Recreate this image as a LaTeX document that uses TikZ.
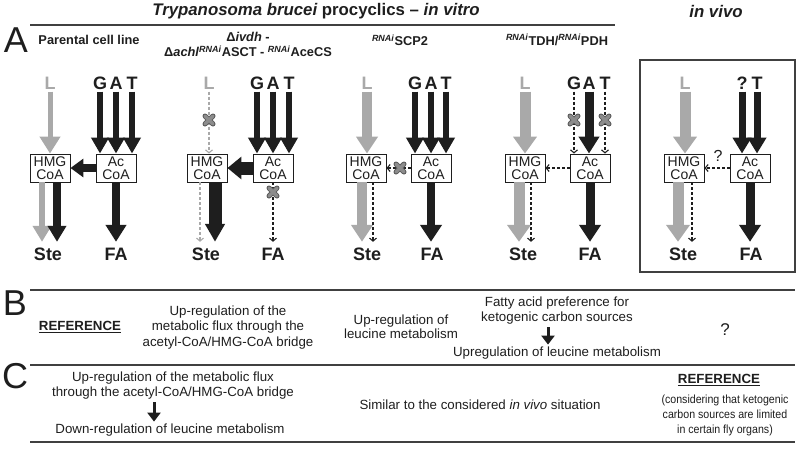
\documentclass[tikz,border=0pt]{standalone}
\usepackage{fontspec}
\setmainfont{Liberation Sans}
\usetikzlibrary{arrows.meta}
\definecolor{lgrey}{HTML}{A9A9A9}
\definecolor{xgrey}{HTML}{8C8C8C}
\definecolor{xdark}{HTML}{5E5E5E}
\definecolor{ink}{HTML}{1E1E1E}
\newcommand\myfs[2]{\fontsize{#1}{#2}\selectfont}
\newcommand\rnai{\textsuperscript{\textit{RNAi}}}
\tikzset{
 xmark/.pic={
  \draw[line width=5pt, draw=xdark, line cap=round] (-4,-4)--(4,4) (-4,4)--(4,-4);
  \draw[line width=3.2pt, draw=xgrey, line cap=round] (-4,-4)--(4,4) (-4,4)--(4,-4);
 }
}
\begin{document}
\begin{tikzpicture}[x=1pt,y=-1pt,
 lbl/.style={inner sep=0pt, text height=13pt, text depth=0pt, font=\myfs{18}{18}\bfseries, text=ink},
 glbl/.style={lbl, text=lgrey},
 bx/.style={draw=ink, line width=0.9pt, fill=white, minimum width=40pt, minimum height=28pt, inner sep=0pt, align=center, font=\myfs{14}{12.8}, text=ink},
 fatarrow/.style n args={3}{line width=#1, -{Triangle[width=#2,length=#3]}},
 dasharrow/.style={line width=1.1pt, dash pattern=on 3pt off 2pt, -{Straight Barb[length=3pt,width=7pt]}},
 hd/.style={font=\myfs{12.8}{15}\bfseries, align=center, inner sep=1pt, text=ink},
 txt/.style={font=\myfs{13.3}{15.5}, align=center, inner sep=1pt, text=ink},
 sep/.style={line width=1.2pt, draw=ink!85},
 big/.style={font=\myfs{36}{36}, inner sep=0pt, text=ink}
]
\useasboundingbox (0,0) rectangle (799,448);

% ---------- headers ----------
\node[font=\myfs{16.8}{18}\bfseries\itshape, text=ink] (title) at (316,11) {Trypanosoma brucei \upshape procyclics -- \itshape in vitro};
\node[font=\myfs{16.8}{18}\bfseries\itshape, text=ink] (vivo) at (716,11) {in vivo};
\draw[sep] (30,25) -- (615,25);
\node[big] (lA) at (16,40) {A};
\node[hd] (h1) at (89,40) {Parental cell line};
\node[hd] (h2) at (248,44.5) {Δ\textit{ivdh} -\\Δ\textit{achl}\rnai ASCT - \rnai AceCS};
\node[hd] (h3) at (400,40) {\rnai SCP2};
\node[hd] (h4) at (557,40) {\rnai TDH/\rnai PDH};

% ---------- panel 1 ----------
\node[glbl] (L1) at (50,83) {L};
\node[lbl] (G1) at (100,83) {G};
\node[lbl] (A1) at (116,83) {A};
\node[lbl] (T1) at (132,83) {T};
\node[bx] (H1) at (50,168) {HMG\\CoA};
\node[bx] (C1) at (116,168) {Ac\\CoA};
\node[lbl] (S1) at (48,253.5) {Ste};
\node[lbl] (F1) at (116,253.5) {FA};
\draw[fatarrow={5pt}{20pt}{17pt}, lgrey, shorten <=2pt] (L1.south) -- (L1.south |- H1.north);
\foreach \n in {G1,A1,T1}
  \draw[fatarrow={6pt}{17pt}{16pt}, ink, shorten <=2pt] (\n.south) -- (\n.south |- C1.north);
\draw[fatarrow={8pt}{18pt}{13pt}, ink] (C1.west) -- (H1.east);
\draw[fatarrow={5.5pt}{18pt}{16pt}, lgrey, shorten >=5pt] ([xshift=-8pt]H1.south) -- ([xshift=-8pt]H1.south |- S1.north);
\draw[fatarrow={7.5pt}{18pt}{16pt}, ink, shorten >=5pt] ([xshift=7pt]H1.south) -- ([xshift=7pt]H1.south |- S1.north);
\draw[fatarrow={8pt}{20pt}{17pt}, ink, shorten >=5pt] (C1.south) -- (C1.south |- F1.north);

% ---------- panel 2 ----------
\node[glbl] (L2) at (209,83) {L};
\node[lbl] (G2) at (257,83) {G};
\node[lbl] (A2) at (273,83) {A};
\node[lbl] (T2) at (289,83) {T};
\node[bx] (H2) at (207,168) {HMG\\CoA};
\node[bx] (C2) at (273,168) {Ac\\CoA};
\node[lbl] (S2) at (206,253.5) {Ste};
\node[lbl] (F2) at (273,253.5) {FA};
\draw[dasharrow, lgrey, shorten <=2pt] (L2.south) -- (L2.south |- H2.north);
\foreach \n in {G2,A2,T2}
  \draw[fatarrow={6pt}{17pt}{16pt}, ink, shorten <=2pt] (\n.south) -- (\n.south |- C2.north);
\draw[fatarrow={13pt}{22pt}{14pt}, ink] (C2.west) -- (H2.east);
\draw[dasharrow, lgrey, shorten >=5pt] ([xshift=-7pt]H2.south) -- ([xshift=-7pt]H2.south |- S2.north);
\draw[fatarrow={13pt}{19pt}{18pt}, ink, shorten >=5pt] ([xshift=8pt]H2.south) -- ([xshift=8pt]H2.south |- S2.north);
\draw[dasharrow, ink, shorten >=5pt] (C2.south) -- (C2.south |- F2.north);
\pic at (209,120) {xmark};
\pic at (273,192) {xmark};

% ---------- panel 3 ----------
\node[glbl] (L3) at (367,83) {L};
\node[lbl] (G3) at (415,83) {G};
\node[lbl] (A3) at (431,83) {A};
\node[lbl] (T3) at (446,83) {T};
\node[bx] (H3) at (366,168) {HMG\\CoA};
\node[bx] (C3) at (431,168) {Ac\\CoA};
\node[lbl] (S3) at (367,253.5) {Ste};
\node[lbl] (F3) at (432,253.5) {FA};
\draw[fatarrow={10pt}{21pt}{17pt}, lgrey, shorten <=2pt] (L3.south) -- (L3.south |- H3.north);
\foreach \n in {G3,A3,T3}
  \draw[fatarrow={6pt}{17pt}{16pt}, ink, shorten <=2pt] (\n.south) -- (\n.south |- C3.north);
\draw[dasharrow, ink] (C3.west) -- (H3.east);
\draw[fatarrow={10pt}{21pt}{17pt}, lgrey, shorten >=5pt] ([xshift=-4pt]H3.south) -- ([xshift=-4pt]H3.south |- S3.north);
\draw[dasharrow, ink, shorten >=5pt] ([xshift=7pt]H3.south) -- ([xshift=7pt]H3.south |- S3.north);
\draw[fatarrow={8.5pt}{21pt}{17pt}, ink, shorten >=5pt] (C3.south) -- (C3.south |- F3.north);
\pic at (400,168) {xmark};

% ---------- panel 4 ----------
\node[glbl] (L4) at (525,83) {L};
\node[lbl] (G4) at (574,83) {G};
\node[lbl] (A4) at (589,83) {A};
\node[lbl] (T4) at (605,83) {T};
\node[bx] (H4) at (525,168) {HMG\\CoA};
\node[bx] (C4) at (590,168) {Ac\\CoA};
\node[lbl] (S4) at (523,253.5) {Ste};
\node[lbl] (F4) at (590,253.5) {FA};
\draw[fatarrow={11pt}{23pt}{17pt}, lgrey, shorten <=2pt] (L4.south) -- (L4.south |- H4.north);
\draw[dasharrow, ink, shorten <=2pt] (G4.south) -- (G4.south |- C4.north);
\draw[fatarrow={9pt}{20pt}{17pt}, ink, shorten <=2pt] (A4.south) -- (A4.south |- C4.north);
\draw[dasharrow, ink, shorten <=2pt] (T4.south) -- (T4.south |- C4.north);
\draw[dasharrow, ink] (C4.west) -- (H4.east);
\draw[fatarrow={11pt}{23pt}{17pt}, lgrey, shorten >=5pt] ([xshift=-6pt]H4.south) -- ([xshift=-6pt]H4.south |- S4.north);
\draw[dasharrow, ink, shorten >=5pt] ([xshift=6pt]H4.south) -- ([xshift=6pt]H4.south |- S4.north);
\draw[fatarrow={9pt}{21pt}{17pt}, ink, shorten >=5pt] (C4.south) -- (C4.south |- F4.north);
\pic at (574,120) {xmark};
\pic at (605,120) {xmark};

% ---------- panel 5 (in vivo) ----------
\draw[line width=1.2pt, draw=ink!85] (640,60) rectangle (795,272);
\node[glbl] (L5) at (685,83) {L};
\node[lbl] (Q5) at (742,83) {?};
\node[lbl] (T5) at (757,83) {T};
\node[bx] (H5) at (684,168) {HMG\\CoA};
\node[bx] (C5) at (750,168) {Ac\\CoA};
\node[lbl] (S5) at (683,253.5) {Ste};
\node[lbl] (F5) at (751,253.5) {FA};
\draw[fatarrow={11pt}{23pt}{17pt}, lgrey, shorten <=2pt] (L5.south) -- (L5.south |- H5.north);
\draw[fatarrow={7pt}{18pt}{16pt}, ink, shorten <=2pt] (Q5.south) -- (Q5.south |- C5.north);
\draw[fatarrow={7pt}{18pt}{16pt}, ink, shorten <=2pt] (T5.south) -- (T5.south |- C5.north);
\draw[dasharrow, ink] (C5.west) -- (H5.east);
\node[font=\myfs{16}{16}, text=ink, inner sep=0pt] (q5) at (718,156) {?};
\draw[fatarrow={11pt}{23pt}{17pt}, lgrey, shorten >=5pt] ([xshift=-6pt]H5.south) -- ([xshift=-6pt]H5.south |- S5.north);
\draw[dasharrow, ink, shorten >=5pt] ([xshift=8pt]H5.south) -- ([xshift=8pt]H5.south |- S5.north);
\draw[fatarrow={9pt}{21pt}{17pt}, ink, shorten >=5pt] (C5.south) -- (C5.south |- F5.north);

% ---------- B ----------
\draw[sep] (30,290) -- (795,290);
\node[big] (lB) at (15,303) {B};
\node[txt, font=\myfs{13.3}{15.5}\bfseries] (b1) at (80,327) {\underline{REFERENCE}};
\node[txt] (b2) at (228,327.5) {Up-regulation of the\\metabolic flux through the\\acetyl-CoA/HMG-CoA bridge};
\node[txt, font=\myfs{13.3}{13.5}] (b3) at (401,326.5) {Up-regulation of\\leucine metabolism};
\node[txt, font=\myfs{13.3}{15}] (b4a) at (557,310.5) {Fatty acid preference for\\ketogenic carbon sources};
\node[txt] (b4b) at (557,353) {Upregulation of leucine metabolism};
\draw[fatarrow={3pt}{13pt}{9pt}, ink, shorten <=2pt, shorten >=1pt] ([xshift=-9pt]b4a.south) -- ([xshift=-9pt]b4a.south |- b4b.north);
\node[txt, font=\myfs{17}{17}] (b5) at (725,330) {?};
\draw[sep] (30,365) -- (795,365);

% ---------- C ----------
\node[big] (lC) at (15,376) {C};
\node[txt, font=\myfs{13.3}{15}] (c1a) at (173,385.5) {Up-regulation of the metabolic flux\\through the acetyl-CoA/HMG-CoA bridge};
\node[txt] (c1b) at (170,430) {Down-regulation of leucine metabolism};
\draw[fatarrow={3pt}{13pt}{9pt}, ink, shorten <=2pt, shorten >=1pt] ([xshift=-19pt]c1a.south) -- ([xshift=-19pt]c1a.south |- c1b.north);
\node[txt] (c2) at (480,405) {Similar to the considered \textit{in vivo} situation};
\node[txt, font=\myfs{13.3}{15.5}\bfseries] (c3a) at (719,380) {\underline{REFERENCE}};
\node[txt, font=\myfs{11.8}{15}\addfontfeatures{FakeStretch=0.9}] (c3b) at (725,415) {(considering that ketogenic\\carbon sources are limited\\in certain fly organs)};
\draw[sep] (30,442) -- (795,442);
\end{tikzpicture}
\end{document}
